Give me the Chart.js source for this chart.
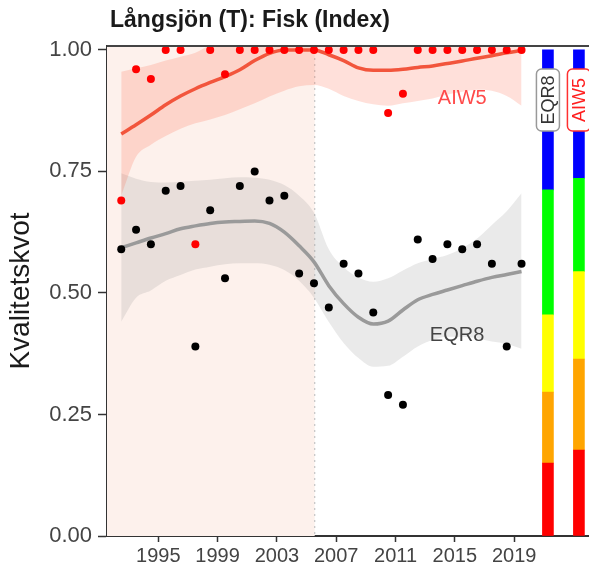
<!DOCTYPE html>
<html>
<head>
<meta charset="utf-8">
<script src="https://cdn.jsdelivr.net/npm/chart.js@4"></script>
<style>
  body { margin: 0; background: #fff; }
  canvas { display: block; }
</style>
</head>
<body>
<canvas id="myChart" width="589" height="570"></canvas>
<script>
const FONT = "'Liberation Sans', Arial, sans-serif";

const years = [1992, 1993, 1994, 1995, 1996, 1997, 1998, 1999, 2000, 2001,
  2002, 2003, 2004, 2005, 2006, 2007, 2008, 2009, 2010, 2011,
  2012, 2013, 2014, 2015, 2016, 2017, 2018, 2019];

// index values per year
const eqr8 = [0.59, 0.63, 0.60, 0.71, 0.72, 0.39, 0.67, 0.53, 0.72, 0.75,
  0.69, 0.70, 0.54, 0.52, 0.47, 0.56, 0.54, 0.46, 0.29, 0.27,
  0.61, 0.57, 0.60, 0.59, 0.60, 0.56, 0.39, 0.56];
const aiw5 = [0.69, 0.96, 0.94, 1.00, 1.00, 0.60, 1.00, 0.95, 1.00, 1.00,
  1.00, 1.00, 1.00, 1.00, 1.00, 1.00, 1.00, 1.00, 0.87, 0.91,
  1.00, 1.00, 1.00, 1.00, 1.00, 1.00, 1.00, 1.00];

// smoothed trend + confidence band
const eqr8Fit = [0.593, 0.603, 0.613, 0.622, 0.632, 0.638, 0.643, 0.646, 0.647, 0.648,
  0.643, 0.625, 0.597, 0.564, 0.515, 0.478, 0.450, 0.436, 0.442, 0.465,
  0.486, 0.497, 0.506, 0.515, 0.524, 0.532, 0.538, 0.544];
const eqr8Lo = [0.441, 0.490, 0.505, 0.525, 0.537, 0.548, 0.554, 0.559, 0.561, 0.561,
  0.558, 0.547, 0.525, 0.490, 0.440, 0.397, 0.366, 0.348, 0.350, 0.369,
  0.390, 0.403, 0.410, 0.410, 0.407, 0.400, 0.395, 0.385];
const eqr8Hi = [0.746, 0.735, 0.728, 0.727, 0.729, 0.731, 0.733, 0.736, 0.738, 0.737,
  0.733, 0.722, 0.700, 0.665, 0.590, 0.553, 0.532, 0.523, 0.530, 0.546,
  0.561, 0.570, 0.578, 0.592, 0.612, 0.640, 0.668, 0.705];

const aiw5Fit = [0.827, 0.846, 0.866, 0.887, 0.905, 0.920, 0.933, 0.945, 0.959, 0.978,
  0.993, 1.000, 1.000, 1.000, 0.990, 0.978, 0.963, 0.958, 0.958, 0.960,
  0.964, 0.967, 0.972, 0.977, 0.983, 0.988, 0.994, 0.999];
const aiw5Lo = [0.700, 0.780, 0.805, 0.823, 0.838, 0.849, 0.857, 0.866, 0.878, 0.890,
  0.904, 0.916, 0.925, 0.928, 0.920, 0.905, 0.895, 0.888, 0.885, 0.890,
  0.895, 0.900, 0.908, 0.914, 0.918, 0.916, 0.905, 0.885];
const aiw5Hi = [0.955, 0.962, 0.969, 0.978, 0.986, 0.994, 1.010, 1.020, 1.040, 1.060,
  1.080, 1.080, 1.080, 1.070, 1.060, 1.050, 1.030, 1.030, 1.030, 1.030,
  1.030, 1.030, 1.040, 1.040, 1.050, 1.060, 1.080, 1.110];

// class limits for the status bars (bad -> high)
const eqr8Classes = [0, 0.150, 0.296, 0.455, 0.712, 1];
const aiw5Classes = [0, 0.177, 0.364, 0.544, 0.736, 1];
const classColors = ["#ff0000", "#ffa500", "#ffff00", "#00ff00", "#0000ff"];
const classBarX = [2021.28, 2023.37];

const tickYears = [1995, 1999, 2003, 2007, 2011, 2015, 2019];
const yTicks = [0, 0.25, 0.5, 0.75, 1];
const refPeriodEnd = 2005.55;

const ctx = document.getElementById("myChart");

// points sit mid-year, ticks are at the start of the year
const toXY = (vals) => vals.map((v, i) => ({ x: years[i] + 0.5, y: v }));

const band = (vals, fill, color, order) => ({
  type: "line",
  data: toXY(vals),
  borderWidth: 0,
  pointRadius: 0,
  cubicInterpolationMode: "monotone",
  fill: fill,
  backgroundColor: color,
  clip: 0,
  order: order,
});

const classBars = classColors.map((c, i) => ({
  type: "bar",
  data: [
    { x: classBarX[0], y: [eqr8Classes[i], eqr8Classes[i + 1]] },
    { x: classBarX[1], y: [aiw5Classes[i], aiw5Classes[i + 1]] },
  ],
  backgroundColor: c,
  barThickness: 11,
  grouped: false,
  borderWidth: 0,
  order: 0,
}));

const roundRect = (c, x, y, w, h, r) => {
  c.beginPath();
  c.moveTo(x + r, y);
  c.arcTo(x + w, y, x + w, y + h, r);
  c.arcTo(x + w, y + h, x, y + h, r);
  c.arcTo(x, y + h, x, y, r);
  c.arcTo(x, y, x + w, y, r);
  c.closePath();
};

const decorations = {
  id: "decorations",
  beforeDatasetsDraw(chart) {
    const { ctx: c, chartArea: a, scales } = chart;
    const xEnd = scales.x.getPixelForValue(refPeriodEnd);
    c.save();
    c.fillStyle = "#fdf1ec";
    c.fillRect(a.left, a.top, xEnd - a.left, a.bottom - a.top);
    c.strokeStyle = "#c4c4c4";
    c.lineWidth = 1.2;
    c.setLineDash([2, 4]);
    c.beginPath();
    c.moveTo(xEnd, a.top);
    c.lineTo(xEnd, a.bottom);
    c.stroke();
    c.restore();
  },
  afterDatasetsDraw(chart) {
    const { ctx: c, scales } = chart;
    const { x, y } = scales;
    c.save();
    c.font = "20px " + FONT;
    c.textAlign = "center";
    c.textBaseline = "middle";
    c.fillStyle = "#ff4a4a";
    c.fillText("AIW5", x.getPixelForValue(2015.5), y.getPixelForValue(0.9));
    c.fillStyle = "#444";
    c.fillText("EQR8", x.getPixelForValue(2015.15), y.getPixelForValue(0.412));

    // boxed labels on the class bars
    const tags = [["EQR8", "#999", "#333"], ["AIW5", "#ff3030", "#ff2020"]];
    tags.forEach((t, i) => {
      const cx = x.getPixelForValue(classBarX[i]);
      const cy = y.getPixelForValue(0.897);
      c.save();
      c.translate(cx, cy);
      c.rotate(-Math.PI / 2);
      roundRect(c, -31, -11.5, 62, 23, 5);
      c.fillStyle = "#fff";
      c.fill();
      c.lineWidth = 1.5;
      c.strokeStyle = t[1];
      c.stroke();
      c.fillStyle = t[2];
      c.font = "18px " + FONT;
      c.fillText(t[0], 0, 1);
      c.restore();
    });
    c.restore();
  },
  afterDraw(chart) {
    const { ctx: c, chartArea: a } = chart;
    c.save();
    c.strokeStyle = "#444";
    c.lineWidth = 2;
    c.beginPath();
    c.moveTo(a.left, a.top);
    c.lineTo(a.right, a.top);
    c.stroke();
    c.fillStyle = "#1a1a1a";
    c.font = "bold 23px " + FONT;
    c.textAlign = "left";
    c.textBaseline = "alphabetic";
    c.fillText("Långsjön (T): Fisk (Index)", a.left + 3, 27);
    c.restore();
  },
};

const myChart = new Chart(ctx, {
  type: "scatter",
  data: {
    datasets: [
      { type: "scatter", data: toXY(aiw5), backgroundColor: "#ff0000", pointRadius: 4, borderWidth: 0, clip: 6, order: 1 },
      { type: "scatter", data: toXY(eqr8), backgroundColor: "#000000", pointRadius: 4, borderWidth: 0, clip: 6, order: 2 },
      {
        type: "line", data: toXY(aiw5Fit), borderColor: "#f2553c", borderWidth: 3.5,
        pointRadius: 0, cubicInterpolationMode: "monotone", fill: false, order: 3,
      },
      {
        type: "line", data: toXY(eqr8Fit), borderColor: "#9a9a9a", borderWidth: 3.5,
        pointRadius: 0, cubicInterpolationMode: "monotone", fill: false, order: 4,
      },
      band(aiw5Lo, false, "transparent", 5),
      band(aiw5Hi, "-1", "rgba(255, 99, 71, 0.2)", 5),
      band(eqr8Lo, false, "transparent", 6),
      band(eqr8Hi, "-1", "rgba(150, 150, 150, 0.2)", 6),
      ...classBars,
    ],
  },
  options: {
    responsive: false,
    devicePixelRatio: 1,
    animation: false,
    layout: { autoPadding: false, padding: { top: 46, right: 0, bottom: 0, left: 0 } },
    plugins: {
      legend: { display: false },
      tooltip: { enabled: false },
    },
    scales: {
      x: {
        type: "linear",
        min: 1991.54,
        max: 2024.05,
        offset: false,
        z: 1,
        afterBuildTicks: (s) => { s.ticks = tickYears.map((v) => ({ value: v })); },
        afterFit: (s) => { s.height = 34; },
        ticks: {
          font: { family: FONT, size: 20 },
          color: "#444",
          padding: 2,
          maxRotation: 0,
          callback: (v) => String(v),
        },
        grid: { offset: false, drawOnChartArea: false, drawTicks: true, tickLength: 6, tickColor: "#333", tickWidth: 1.5 },
        border: { display: true, color: "#333", width: 2 },
      },
      y: {
        type: "linear",
        min: 0,
        max: 1.008,
        z: 1,
        afterBuildTicks: (s) => { s.ticks = yTicks.map((v) => ({ value: v })); },
        afterFit: (s) => { s.width = 107; },
        ticks: {
          font: { family: FONT, size: 22 },
          color: "#444",
          padding: 6,
          callback: (v) => v.toFixed(2),
        },
        grid: { offset: false, drawOnChartArea: false, drawTicks: true, tickLength: 9, tickColor: "#333", tickWidth: 1.5 },
        border: { display: true, color: "#333", width: 2 },
        title: {
          display: true,
          text: "Kvalitetskvot",
          font: { family: FONT, size: 28 },
          color: "#1a1a1a",
          padding: { top: 4, bottom: 0 },
        },
      },
    },
  },
  plugins: [decorations],
});
</script>
</body>
</html>
